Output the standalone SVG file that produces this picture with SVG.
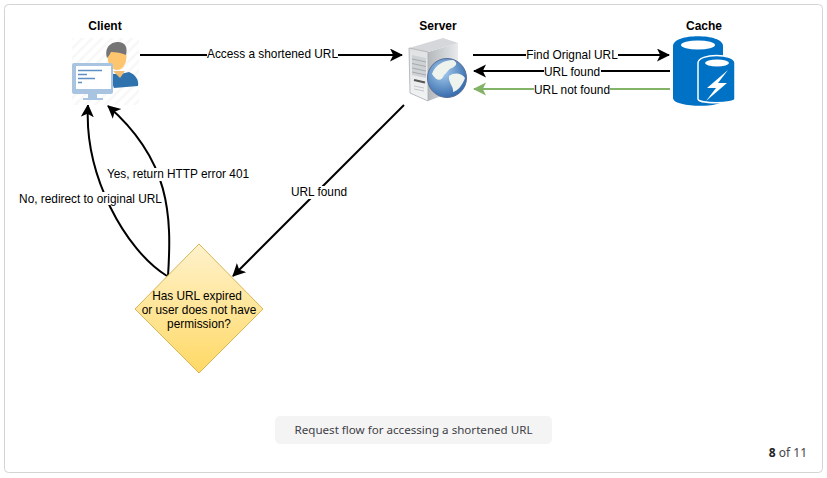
<svg xmlns="http://www.w3.org/2000/svg" width="827" height="478" viewBox="0 0 827 478">
<style>
text{font-family:"Liberation Sans",Arial,sans-serif;font-size:11.85px;fill:#000;text-anchor:middle}
.t{font-weight:700;font-size:12px}
.c{fill:none;stroke:#000;stroke-width:2}
.g{stroke:#82b366}
.lb{fill:#fff}
.n{font-family:"Noto Sans",sans-serif;font-size:11.6px}
</style>
<defs>
<marker id="a" markerUnits="userSpaceOnUse" markerWidth="15" markerHeight="15" refX="12" refY="6.500" orient="auto"><path d="M0 0L13 6.500L0 13L3.200 6.500Z" fill="#000"/></marker>
<marker id="ag" markerUnits="userSpaceOnUse" markerWidth="15" markerHeight="15" refX="12" refY="6.500" orient="auto"><path d="M0 0L13 6.500L0 13L3.200 6.500Z" fill="#82b366"/></marker>
<linearGradient id="d" x1="0" y1="0" x2="0" y2="1"><stop offset="0" stop-color="#fff2cc"/><stop offset="1" stop-color="#ffd966"/></linearGradient>
<linearGradient id="sv" x1="0" y1="0" x2="1" y2="0"><stop offset="0" stop-color="#b4b8bc"/><stop offset="1" stop-color="#e8eaec"/></linearGradient>
<linearGradient id="fr" x1="0" y1="0" x2="0" y2="1"><stop offset="0" stop-color="#dfe1e3"/><stop offset="1" stop-color="#f2f3f4"/></linearGradient>
<radialGradient id="gl" cx=".4" cy=".35" r=".7"><stop offset="0" stop-color="#a8cdf0"/><stop offset="1" stop-color="#2f66a8"/></radialGradient>
<pattern id="h" width="7" height="7" patternUnits="userSpaceOnUse" patternTransform="rotate(-45)"><rect width="7" height="7" fill="#fff"/><rect width="7" height="2.500" fill="#f7f7f7"/></pattern>
</defs>
<rect id="frame" x="4.500" y="4.500" width="818" height="468" rx="4" fill="#fff" stroke="#d4d4d4"/>
<g id="connectors">
<path class="c" marker-end="url(#a)" d="M140 55H402"/>
<path class="c" marker-end="url(#a)" d="M473 55H669"/>
<path class="c" marker-end="url(#a)" d="M670 71H474"/>
<path class="c g" marker-end="url(#ag)" d="M670 89H474"/>
<path class="c" marker-end="url(#a)" d="M404 105L233 276"/>
<path class="c" marker-end="url(#a)" d="M167 276C125 250 84 175 88 105"/>
<path class="c" marker-end="url(#a)" d="M168 276C172 215 170 160 108 106"/>
</g>
<g id="connector-labels">
<rect class="lb" x="207" y="47" width="131" height="14"/><text x="272.500" y="58">Access a shortened URL</text>
<rect class="lb" x="526" y="48" width="92" height="14"/><text x="572" y="59">Find Orignal URL</text>
<rect class="lb" x="544" y="65" width="57" height="13"/><text x="572" y="76">URL found</text>
<rect class="lb" x="534" y="83" width="76" height="13"/><text x="572" y="94">URL not found</text>
<rect class="lb" x="291" y="186" width="57" height="13"/><text x="319" y="196">URL found</text>
<rect class="lb" x="107" y="168" width="142" height="13"/><text x="178" y="178">Yes, return HTTP error 401</text>
<rect class="lb" x="19" y="192" width="143" height="13"/><text x="90.500" y="203">No, redirect to original URL</text>
</g>
<g id="client">
<text class="t" x="105" y="30">Client</text>
<rect x="72" y="38" width="67" height="67" fill="url(#h)"/>
<path d="M108 73C116 75 122 74 129 72C136 75 139 80 138 86L114 88Z" fill="#2f73ae"/>
<path d="M113 71L125 71L120 78Z" fill="#f0bd72"/>
<ellipse cx="117" cy="57" rx="9.500" ry="13" fill="#fdc66e"/>
<path d="M107 58C104 46 112 42 118 42C125 42 128 47 126 55C122 53 116 52 111 52C110 54 109 56 107 58Z" fill="#757575"/>
<rect x="72" y="63" width="41" height="31" rx="2" fill="#a9c4e0"/>
<rect x="76" y="66" width="35" height="23" fill="#fff"/>
<path d="M78 70.500H102M78 74.500H87M78 78.500H95M78 82.500H82" stroke="#5d8fc4" stroke-width="1.300"/>
<path d="M88 94H97V98H103V100H83V98H88Z" fill="#a9c4e0"/>
</g>
<g id="server">
<text class="t" x="438" y="30">Server</text>
<path d="M428 52L458 43V90L428 101Z" fill="url(#sv)"/>
<path d="M409 48L443 38L458 43L428 52Z" fill="#d5d7da"/>
<path d="M409 48L428 52V101L410 93Z" fill="url(#fr)" stroke="#a8acb0" stroke-width=".8"/>
<path d="M412 55L426 58V78L412 75Z" fill="#cfd2d5"/>
<path d="M412 59L426 62M412 63.500L426 66.500M412 68L426 71M412 72L426 75" stroke="#a6a9ad"/>
<path d="M414 80L425 82.500" stroke="#555" stroke-width="2"/>
<path d="M414 86L424 88M414 89L424 91" stroke="#c4c6c9"/>
<circle cx="447" cy="78" r="19.500" fill="url(#gl)" stroke="#5a6e96" stroke-width="1"/>
<path d="M432 74C435 65 444 60 453 60C457 62 458 65 452 68C448 69 447 73 444 75C442 81 437 82 432 74ZM449 76C454 72 462 73 465 78C463 84 458 91 453 92C454 86 448 83 449 76Z" fill="#eef3ee"/>
</g>
<g id="cache">
<text class="t" x="704" y="30">Cache</text>
<path d="M673 46C673 33 723 33 723 46V100C723 108 673 108 673 98Z" fill="#0072c6"/>
<ellipse cx="698" cy="45" rx="17" ry="4.500" fill="#fff"/>
<path d="M698 63C698 53 735 53 735 63V99C735 104 698 104 698 99Z" fill="#0072c6" stroke="#fff" stroke-width="1.500"/>
<ellipse cx="717" cy="63" rx="12" ry="3.500" fill="#fff"/>
<path d="M728 70L707 88H716L706 101L727 83H718Z" fill="#fff"/>
</g>
<g id="decision">
<path d="M199 244L263 309L199 373L135 309Z" fill="url(#d)" stroke="#d6b656"/>
<text x="197" y="300">Has URL expired</text>
<text x="199" y="314">or user does not have</text>
<text x="199" y="328">permission?</text>
</g>
<g id="caption">
<rect x="275" y="416" width="277" height="28" rx="5" fill="#f4f4f5"/>
<text class="n" x="413.500" y="434" style="fill:#3f3f46">Request flow for accessing a shortened URL</text>
</g>
<text class="n" x="807" y="457" style="text-anchor:end;fill:#444;font-size:12px"><tspan style="font-weight:700;fill:#222">8</tspan> of 11</text>
</svg>
